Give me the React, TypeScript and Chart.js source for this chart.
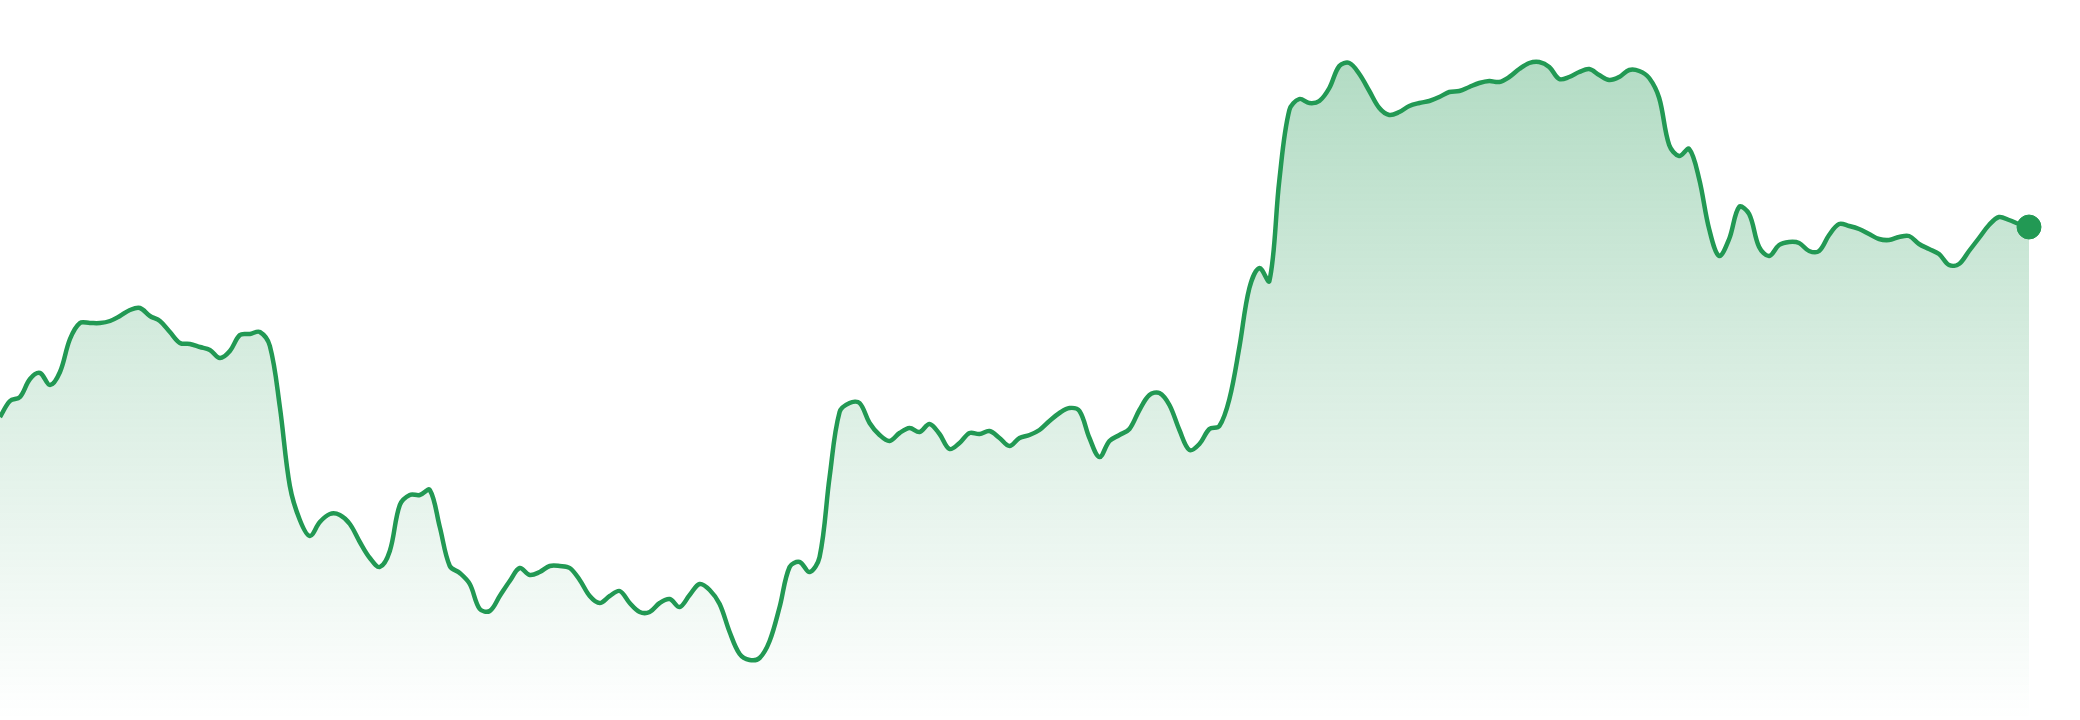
import React, { useEffect, useRef } from "react";
import { Chart, registerables } from "chart.js";

Chart.register(...registerables);

// Price series (one value per period)
const prices: number[] = [
  30.3, 31.9, 32.3, 34.1, 34.7, 33.5, 34.8, 38.1, 39.7, 39.7,
  39.7, 39.9, 40.4, 41.0, 41.2, 40.4, 39.9, 38.8, 37.7, 37.6,
  37.3, 37.0, 36.2, 36.9, 38.5, 38.6, 38.8, 37.4, 31.3, 23.4,
  20.0, 18.4, 19.8, 20.6, 20.5, 19.6, 17.8, 16.2, 15.3, 16.9,
  21.5, 22.5, 22.5, 23.0, 19.3, 15.4, 14.7, 13.6, 11.1, 10.9,
  12.4, 13.9, 15.2, 14.5, 14.8, 15.4, 15.4, 15.2, 14.0, 12.4,
  11.7, 12.4, 12.9, 11.7, 10.8, 10.8, 11.7, 12.1, 11.3, 12.5,
  13.6, 13.0, 11.6, 8.8, 6.6, 6.0, 6.2, 7.9, 11.3, 15.3,
  15.8, 14.8, 16.3, 24.3, 30.8, 31.7, 31.7, 29.7, 28.5, 27.9,
  28.7, 29.2, 28.8, 29.6, 28.6, 27.1, 27.7, 28.7, 28.6, 28.9,
  28.2, 27.4, 28.2, 28.5, 29.0, 29.9, 30.7, 31.2, 30.9, 28.2,
  26.3, 27.9, 28.5, 29.1, 31.0, 32.5, 32.7, 31.5, 29.0, 27.0,
  27.6, 29.1, 29.4, 32.1, 37.3, 43.2, 45.2, 43.9, 54.0, 61.0,
  62.1, 61.7, 61.9, 63.2, 65.4, 65.7, 64.6, 62.9, 61.2, 60.5,
  60.8, 61.4, 61.7, 61.9, 62.3, 62.8, 62.9, 63.3, 63.7, 63.9,
  63.8, 64.3, 65.1, 65.7, 65.8, 65.3, 64.1, 64.3, 64.8, 65.1,
  64.5, 64.0, 64.3, 65.0, 64.9, 64.2, 62.2, 57.5, 56.4, 57.1,
  54.1, 49.1, 46.4, 48.1, 51.3, 50.6, 47.3, 46.4, 47.5, 47.8,
  47.7, 46.9, 46.9, 48.5, 49.6, 49.4, 49.1, 48.6, 48.1, 48.0,
  48.3, 48.4, 47.6, 47.1, 46.6, 45.5, 45.6, 46.9, 48.2, 49.5,
  50.3, 50.0, 49.6, 49.3,
];

const periods: string[] = prices.map((_, i) => `P${i + 1}`);

const Y_MIN = 0;
const Y_MAX = 72;

const LINE_COLOR = "#229954";

export default function App() {
  const canvasRef = useRef<HTMLCanvasElement | null>(null);

  useEffect(() => {
    document.body.style.margin = "0";
    const canvas = canvasRef.current;
    if (!canvas) return;
    const last = prices.length - 1;
    const chart = new Chart(canvas, {
      type: "line",
      data: {
        labels: periods,
        datasets: [
          {
            data: prices,
            borderColor: LINE_COLOR,
            borderWidth: 4.5,
            tension: 0.35,
            fill: "start",
            clip: false,
            backgroundColor: (ctx: any) => {
              const area = ctx.chart.chartArea;
              if (!area) return "rgba(34,153,84,0.2)";
              const g = ctx.chart.ctx.createLinearGradient(0, area.top, 0, area.bottom);
              g.addColorStop(0, "rgba(34,153,84,0.38)");
              g.addColorStop(0.5, "rgba(34,153,84,0.18)");
              g.addColorStop(1, "rgba(34,153,84,0.0)");
              return g;
            },
            pointRadius: (ctx: any) => (ctx.dataIndex === last ? 12 : 0),
            pointHoverRadius: (ctx: any) => (ctx.dataIndex === last ? 12 : 0),
            pointBackgroundColor: LINE_COLOR,
            pointBorderColor: LINE_COLOR,
            pointBorderWidth: 1,
          },
        ],
      },
      options: {
        animation: false,
        responsive: false,
        devicePixelRatio: 1,
        layout: { autoPadding: false, padding: { left: 0, right: 51, top: 0, bottom: 0 } },
        plugins: {
          legend: { display: false },
          tooltip: { enabled: false },
        },
        scales: {
          x: { display: false, offset: false },
          y: { display: false, min: Y_MIN, max: Y_MAX },
        },
      },
    });
    return () => chart.destroy();
  }, []);

  return (
    <div
      style={{
        position: "absolute",
        left: 0,
        top: 0,
        width: 2080,
        height: 720,
        background: "#ffffff",
      }}
    >
      <canvas ref={canvasRef} width={2080} height={720} style={{ display: "block" }} />
    </div>
  );
}
